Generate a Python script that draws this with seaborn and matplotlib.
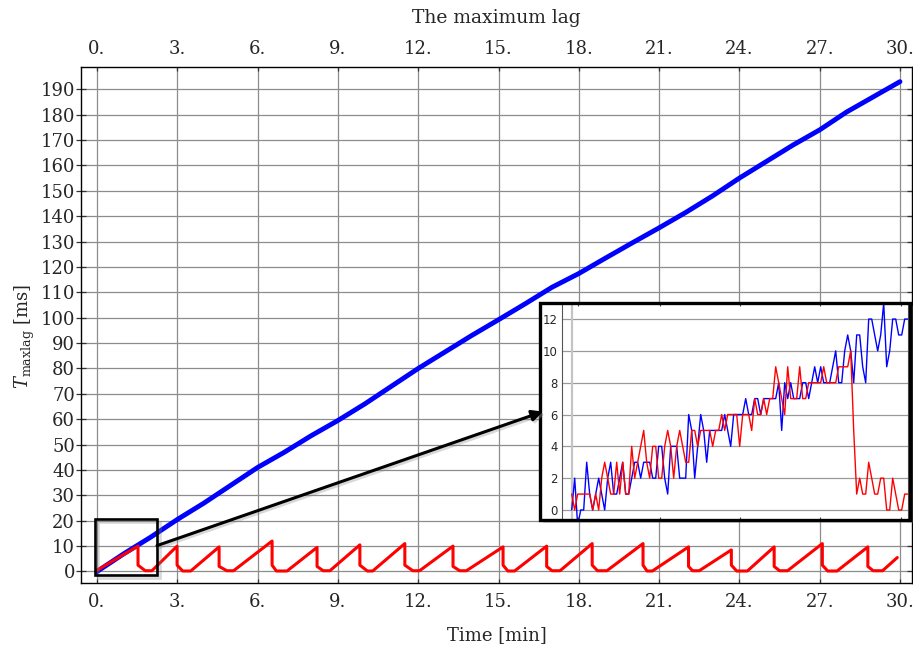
import numpy as np
import pandas as pd
import matplotlib
matplotlib.use("Agg")
import matplotlib.pyplot as plt
import seaborn as sns
from matplotlib.patches import Rectangle, FancyArrowPatch
from matplotlib.ticker import FuncFormatter, FixedLocator
import matplotlib.patheffects as pe

# ---------------- data ----------------
# main chart: blue series, one reading per minute
blue_t = [0, 1, 2, 3, 4, 5, 6, 7, 8, 9, 10, 11, 12, 13, 14, 15, 16, 17, 18, 19,
          20, 21, 22, 23, 24, 25, 26, 27, 28, 29, 30]
blue_v = [0, 7, 13.5, 20.5, 27, 34, 41, 47, 53.5, 59.5, 66, 73, 80, 86.5, 93,
          99.2, 105.5, 112, 117.4, 123.5, 129.5, 135.4, 141.5, 148, 155,
          161.5, 168, 174, 181, 187, 193]

# main chart: red sawtooth (reset times, peaks before reset, value after drop, trough)
red_start_v = 0.5
red_reset_t = [1.53, 2.99, 4.56, 6.54, 8.22, 9.82, 11.50, 13.30, 15.17, 16.80,
               18.50, 20.40, 22.10, 23.70, 25.30, 27.10, 28.80]
red_peak = [10.0, 10.0, 9.7, 12.0, 9.5, 10.5, 11.0, 10.0, 9.7, 10.0,
            11.0, 11.0, 9.7, 8.5, 9.7, 11.0, 9.7]
red_after = [2.5, 2.5, 2.0, 2.5, 2.0, 2.5, 2.5, 2.0, 2.5, 2.0,
             2.5, 2.5, 2.0, 2.5, 2.0, 2.5, 2.0]
red_trough_t0 = [1.80, 3.20, 4.85, 6.70, 8.45, 10.10, 11.80, 13.55, 15.35, 17.00,
                 18.70, 20.55, 22.25, 23.90, 25.50, 27.30, 29.00]
red_trough_t1 = [2.05, 3.50, 5.10, 7.10, 8.70, 10.30, 12.05, 13.80, 15.60, 17.30,
                 19.05, 20.75, 22.50, 24.30, 25.80, 27.65, 29.35]
red_trough_v = [0.3, 0.2, 0.3, 0.2, 0.3, 0.2, 0.3, 0.3, 0.2, 0.3,
                0.3, 0.2, 0.3, 0.2, 0.3, 0.2, 0.3]
red_end_t = 29.9
red_end_v = 5.5

# inset: first samples of both series
inset_blue = [0, 2, -1, 0, 0, 3, 1, 0, 1, 2,
              1, 0, 2, 3, 1, 1, 2, 3, 1, 1,
              2, 3, 3, 2, 3, 3, 3, 2, 2, 4,
              4, 2, 1, 4, 4, 4, 2, 2, 2, 6,
              5, 2, 4, 6, 5, 3, 5, 5, 5, 5,
              5, 6, 5, 4, 6, 6, 6, 6, 7, 6,
              6, 7, 7, 6, 7, 7, 7, 7, 7, 8,
              5, 8, 7, 8, 7, 7, 7, 8, 8, 7,
              8, 9, 8, 9, 8, 8, 8, 9, 10, 8,
              8, 10, 11, 10, 8, 11, 11, 9, 8, 12,
              12, 11, 10, 11, 13, 9, 10, 12, 12, 11,
              11, 12, 12]
inset_red = [1, 0, 1, 1, 1, 1, 1, 0, 1, 0,
             2, 3, 2, 1, 1, 3, 1, 3, 1, 1,
             4, 2, 3, 4, 5, 3, 2, 4, 4, 2,
             2, 4, 5, 4, 2, 4, 5, 4, 3, 3,
             5, 5, 4, 5, 5, 5, 5, 4, 5, 5,
             6, 5, 6, 6, 6, 6, 4, 6, 6, 6,
             5, 7, 6, 6, 7, 6, 7, 7, 9, 8,
             7, 6, 9, 7, 7, 7, 9, 7, 7, 8,
             8, 8, 8, 8, 9, 8, 8, 8, 8, 9,
             9, 9, 9, 10, 5, 1, 2, 1, 1, 3,
             2, 1, 1, 2, 2, 0, 0, 2, 1, 0,
             0, 1, 1]

x_ticks = [0, 3, 6, 9, 12, 15, 18, 21, 24, 27, 30]
y_ticks = list(range(0, 191, 10))
inset_y_ticks = [0, 2, 4, 6, 8, 10, 12]
inset_x_ticks = [2.2, 29.4, 56.1, 82.8, 109.7]

# zoom box / arrow (data coordinates of the main axes)
box_x = (-0.075, 2.23)
box_y = (-1.4, 20.7)
arrow_from = (2.24, 10.2)
arrow_to = (16.66, 63.0)

# ---------------- build tables ----------------
df_blue = pd.DataFrame({"t": blue_t, "v": blue_v})

rt, rv = [0.0], [red_start_v]
for k in range(len(red_reset_t)):
    rt += [red_reset_t[k], red_reset_t[k], red_trough_t0[k], red_trough_t1[k]]
    rv += [red_peak[k], red_after[k], red_trough_v[k], red_trough_v[k]]
rt.append(red_end_t)
rv.append(red_end_v)
df_red = pd.DataFrame({"t": rt, "v": rv})

n_in = len(inset_red)
df_in = pd.DataFrame({"i": np.arange(n_in), "blue": inset_blue, "red": inset_red})

# ---------------- style ----------------
sns.set_style("white")
plt.rcParams["font.family"] = ["DejaVu Serif"]
plt.rcParams["mathtext.fontset"] = "dejavuserif"

W, H = 913, 650
fig = plt.figure(figsize=(W / 100, H / 100), dpi=100)

L, R, T, B = 81, 912, 67.3, 583.3
ax = fig.add_axes([L / W, 1 - B / H, (R - L) / W, (B - T) / H])
ax.set_zorder(0)

sns.lineplot(data=df_blue, x="t", y="v", ax=ax, color=(0, 0, 1), lw=3.5,
             estimator=None, sort=False, zorder=3)
sns.lineplot(data=df_red, x="t", y="v", ax=ax, color=(1, 0, 0), lw=2.2,
             estimator=None, sort=False, zorder=4)

ax.set_xlim(-0.6, 30.45)
ax.set_ylim(-4.65, 198.66)
ax.set_xticks(x_ticks)
ax.set_yticks(y_ticks)
ax.xaxis.set_major_formatter(FuncFormatter(lambda v, p: f"{int(round(v))}."))
ax.grid(True, color="#8c8c8c", lw=0.9)
ax.set_axisbelow(True)
ax.tick_params(axis="x", direction="in", top=True, bottom=True, labeltop=True,
               labelbottom=True, length=3, width=0.9, pad=7, labelsize=13,
               color="#333333")
ax.tick_params(axis="y", direction="inout", left=True, right=True, length=6.5,
               width=0.9, pad=1, labelsize=13, color="#333333")
for s in ax.spines.values():
    s.set_color("black")
    s.set_linewidth(1.0)

ax.set_xlabel("Time [min]", fontsize=13)
ax.xaxis.set_label_coords(0.5, (B - 626) / (B - T))
ax.xaxis.label.set_va("top")
ax.set_title("The maximum lag", fontsize=13.5, y=(B - 23) / (B - T), pad=0)
ax.set_ylabel(r"$T_{\mathrm{maxlag}}$ [ms]", fontsize=13)
ax.yaxis.set_label_coords((37 - L) / (R - L), 0.479)

# zoom box
box = Rectangle((box_x[0], box_y[0]), box_x[1] - box_x[0], box_y[1] - box_y[0],
                fill=False, ec="black", lw=1.9, zorder=6,
                path_effects=[pe.SimpleLineShadow(offset=(2, -2), alpha=0.3, shadow_color="gray"),
                              pe.Normal()])
ax.add_patch(box)

# inset frame (fill) and inset axes
fx0, fx1, fy0, fy1 = 540, 910, 303.3, 520
frame_fill = Rectangle((fx0 / W, 1 - fy1 / H), (fx1 - fx0) / W, (fy1 - fy0) / H,
                       transform=fig.transFigure, facecolor="white", edgecolor="none",
                       zorder=1, path_effects=[pe.SimplePatchShadow(offset=(2, -2), alpha=0.3,
                                                                    shadow_rgbFace="gray"),
                                               pe.Normal()])
fig.add_artist(frame_fill)

il, ir = 561.7, 908
axi = fig.add_axes([il / W, 1 - fy1 / H, (ir - il) / W, (fy1 - fy0) / H])
axi.set_zorder(2)
axi.patch.set_alpha(0)
axi.axvline(0, color="#c4c4c4", lw=1.6, zorder=1)
sns.lineplot(data=df_in, x="i", y="blue", ax=axi, color=(0, 0, 1), lw=1.0,
             estimator=None, sort=False, zorder=3)
sns.lineplot(data=df_in, x="i", y="red", ax=axi, color=(1, 0, 0), lw=1.0,
             estimator=None, sort=False, zorder=4)
axi.set_xlim(-3.33, 112.1)
axi.set_ylim(-0.63, 12.99)
axi.set_yticks(inset_y_ticks)
axi.xaxis.set_major_locator(FixedLocator(inset_x_ticks))
axi.set_xticklabels([])
axi.grid(True, axis="y", color="#9a9a9a", lw=0.9)
axi.set_axisbelow(True)
axi.tick_params(axis="y", direction="inout", length=3, width=0.8, pad=1.5,
                labelsize=8.4, labelfontfamily="DejaVu Sans", color="#444444")
axi.tick_params(axis="x", direction="in", top=True, bottom=True, length=2.5,
                width=0.8, color="#444444")
axi.set_xlabel("")
axi.set_ylabel("")
for s in axi.spines.values():
    s.set_color("#555555")
    s.set_linewidth(0.8)

frame_edge = Rectangle((fx0 / W, 1 - fy1 / H), (fx1 - fx0) / W, (fy1 - fy0) / H,
                       transform=fig.transFigure, facecolor="none", edgecolor="black",
                       lw=2.4, zorder=3)
fig.add_artist(frame_edge)

# arrow from the box to the inset
arrow = FancyArrowPatch(arrow_from, arrow_to, transform=ax.transData,
                        arrowstyle="-|>", mutation_scale=16, lw=2.2, color="black",
                        shrinkA=0, shrinkB=0, zorder=4,
                        path_effects=[pe.SimpleLineShadow(offset=(1.5, -1.5), alpha=0.3,
                                                          shadow_color="gray"),
                                      pe.Normal()])
fig.add_artist(arrow)

fig.savefig("out.png", dpi=100)
